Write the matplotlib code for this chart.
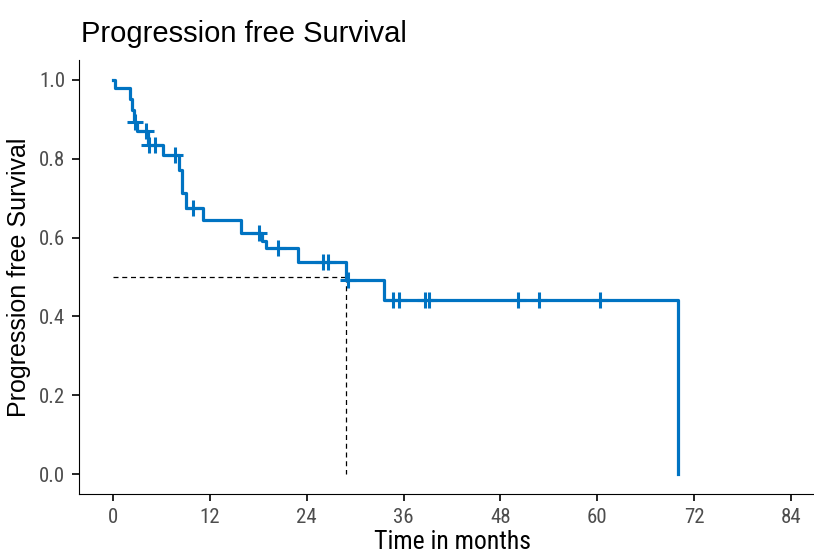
import numpy as np
import matplotlib
matplotlib.use("Agg")
import matplotlib.pyplot as plt
from matplotlib import font_manager

# Kaplan-Meier steps (time in months, survival)
step_times = [0, 0.3, 2.1, 2.35, 2.6, 3.0, 4.3, 6.2, 8.2, 8.6, 9.0,
              11.2, 15.9, 18.5, 18.9, 22.9, 28.9, 33.6, 70.0]
step_surv = [1.0, 0.979, 0.951, 0.924, 0.894, 0.869, 0.835, 0.81, 0.77,
             0.712, 0.674, 0.645, 0.611, 0.59, 0.573, 0.539, 0.492, 0.442, 0.0]

# censored observations
censor_times = [2.7, 4.1, 4.45, 5.2, 7.7, 9.9, 18.1, 20.4, 26.0, 26.6, 29.1,
                34.7, 35.4, 38.6, 39.1, 50.2, 52.8, 60.3]

median_time = 28.9
x_ticks = [0, 12, 24, 36, 48, 60, 72, 84]
y_ticks = [0.0, 0.2, 0.4, 0.6, 0.8, 1.0]

blue = "#0073C2"

# the tick labels in the original use a narrow face; use one if there is any
names = {f.name for f in font_manager.fontManager.ttflist}
narrow = [n for n in ["Liberation Sans Narrow", "Arial Narrow", "Roboto Condensed",
                      "Open Sans Condensed"] if n in names]
tick_font = narrow[:1] + ["Liberation Sans"]

fig = plt.figure(figsize=(8.14, 5.58), dpi=100)
ax = fig.add_axes([79 / 814, 64 / 558, 746 / 814, 434 / 558])

# step curve
ax.step(step_times, step_surv, where="post", color=blue, lw=2.3, zorder=3)

# censor marks sit on the curve
idx = np.searchsorted(step_times, censor_times, side="right") - 1
censor_surv = np.array(step_surv)[idx]
ax.plot(censor_times, censor_surv, ls="none", marker="+", ms=11, mew=2.2,
        color=blue, zorder=4)

# median survival line
ax.plot([0, median_time], [0.5, 0.5], ls=(0, (4, 3)), color="black", lw=0.9)
ax.plot([median_time, median_time], [0.5, 0], ls=(0, (4, 3)), color="black", lw=0.9)

ax.set_xlim(-4.2, 88.2)
ax.set_ylim(-0.05, 1.05)
ax.set_xticks(x_ticks)
ax.set_yticks(y_ticks)
ax.set_yticklabels([f"{v:.1f}" for v in y_ticks])
for lab in ax.get_xticklabels() + ax.get_yticklabels():
    lab.set_family(tick_font)
    lab.set_fontsize(15)
    lab.set_color("#4d4d4d")

ax.spines["top"].set_visible(False)
ax.spines["right"].set_visible(False)
ax.tick_params(direction="out", length=5, width=1.2, pad=5)

ax.set_xlabel("Time in months", family=tick_font, fontsize=18.5, labelpad=2)
ax.set_ylabel("Progression free Survival", family="Liberation Sans", fontsize=18,
              labelpad=6)

fig.text(81 / 814, 1 - 42 / 558, "Progression free Survival", family="Liberation Sans",
         fontsize=21, va="baseline", ha="left")

fig.savefig("out.png", dpi=100)
